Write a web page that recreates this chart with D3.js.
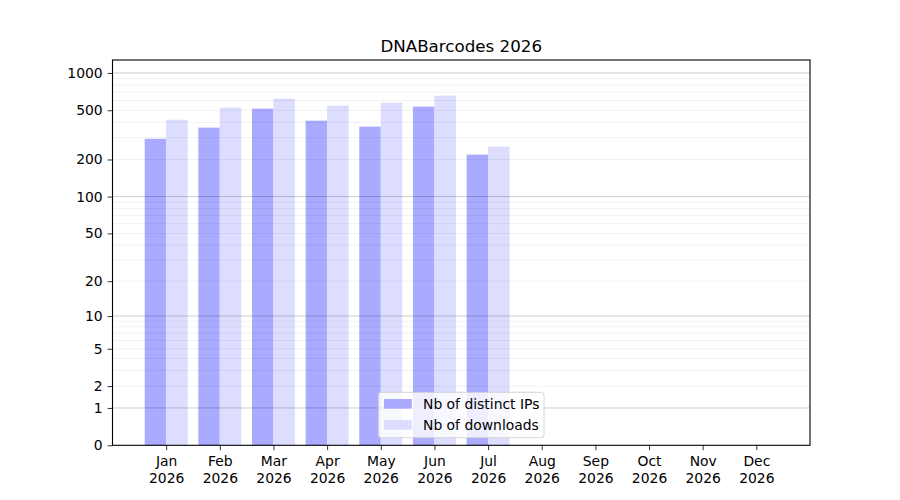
<!DOCTYPE html>
<html>
<head>
<meta charset="utf-8">
<script src="https://cdn.jsdelivr.net/npm/d3@7"></script>
<style>
body { margin: 0; background: #fff; }
svg { display: block; font-family: "DejaVu Sans", sans-serif; }
</style>
</head>
<body>
<svg id="chart" width="900" height="500"></svg>
<script>
const title = "DNABarcodes 2026";
const months = ["Jan","Feb","Mar","Apr","May","Jun","Jul","Aug","Sep","Oct","Nov","Dec"];
const yearLabel = "2026";
const distinctIPs = [294, 362, 515, 412, 369, 535, 219, 0, 0, 0, 0, 0];
const downloads = [419, 525, 621, 545, 576, 656, 254, 0, 0, 0, 0, 0];
const yTicks = [0, 1, 2, 5, 10, 20, 50, 100, 200, 500, 1000];
const seriesNames = ["Nb of distinct IPs", "Nb of downloads"];
const seriesColors = ["#aaaaff", "#ddddff"];

const svg = d3.select("#chart");
const L = 112.5, R = 810, T = 60, B = 445.3;

const x = d3.scaleLinear().domain([-1, 12]).range([L, R]);
const y = d3.scaleSymlog().constant(1).domain([0, 1272]).range([B, T]);

// bars
const barW = 0.4;
const g = svg.append("g");
g.selectAll("rect.ip").data(distinctIPs).join("rect")
  .attr("class", "ip")
  .attr("x", (d, i) => x(i - barW))
  .attr("width", (d, i) => x(i) - x(i - barW))
  .attr("y", d => y(d))
  .attr("height", d => B - y(d))
  .attr("fill", seriesColors[0]);
g.selectAll("rect.dl").data(downloads).join("rect")
  .attr("class", "dl")
  .attr("x", (d, i) => x(i))
  .attr("width", (d, i) => x(i + barW) - x(i))
  .attr("y", d => y(d))
  .attr("height", d => B - y(d))
  .attr("fill", seriesColors[1]);

// grid (drawn over bars, semi-transparent)
const majors = [1, 10, 100, 1000];
const minors = [];
[1, 10, 100, 1000].forEach(b => { for (let k = 2; k <= 9; k++) { const v = b * k; if (v <= 1272) minors.push(v); } });
const grid = svg.append("g");
grid.selectAll("line.minor").data(minors).join("line")
  .attr("x1", L).attr("x2", R)
  .attr("y1", d => y(d)).attr("y2", d => y(d))
  .attr("stroke", "#000").attr("stroke-opacity", 0.075).attr("stroke-width", 0.8);
grid.selectAll("line.major").data(majors).join("line")
  .attr("x1", L).attr("x2", R)
  .attr("y1", d => y(d)).attr("y2", d => y(d))
  .attr("stroke", "#000").attr("stroke-opacity", 0.25).attr("stroke-width", 0.8);

// axes
const yAxis = d3.axisLeft(y).tickValues(yTicks).tickFormat(d3.format("d")).tickSize(4.9).tickPadding(4.9);
const ya = svg.append("g").attr("transform", `translate(${L},0)`).call(yAxis);
ya.select(".domain").remove();
ya.selectAll("text").attr("font-size", "13.9px").attr("fill", "#000").attr("font-family", "DejaVu Sans");
ya.selectAll("line").attr("stroke", "#000").attr("stroke-width", 0.8);

const xAxis = d3.axisBottom(x).tickValues(d3.range(12)).tickFormat(() => "").tickSize(4.9);
const xa = svg.append("g").attr("transform", `translate(0,${B})`).call(xAxis);
xa.select(".domain").remove();
xa.selectAll("line").attr("stroke", "#000").attr("stroke-width", 0.8);
xa.selectAll(".tick").each(function(d, i) {
  const t = d3.select(this).select("text").attr("y", 0).attr("dy", null)
    .attr("font-size", "13.9px").attr("fill", "#000").attr("font-family", "DejaVu Sans");
  t.append("tspan").attr("x", 0).attr("y", 20.8).text(months[i]);
  t.append("tspan").attr("x", 0).attr("y", 37.4).text(yearLabel);
});

// frame
svg.append("rect").attr("x", L).attr("y", T).attr("width", R - L).attr("height", B - T)
  .attr("fill", "none").attr("stroke", "#000").attr("stroke-width", 1.1);

// title
svg.append("text").attr("x", (L + R) / 2).attr("y", 52).attr("text-anchor", "middle")
  .attr("font-size", "16.7px").attr("fill", "#000").text(title);

// legend
const lg = svg.append("g");
lg.append("rect").attr("x", 378.3).attr("y", 392.3).attr("width", 165.7).attr("height", 45.4)
  .attr("rx", 3).attr("fill", "#fff").attr("fill-opacity", 0.8).attr("stroke", "#cccccc").attr("stroke-width", 0.8);
seriesNames.forEach((name, i) => {
  const cy = 404 + i * 21;
  lg.append("rect").attr("x", 384).attr("y", cy - 5).attr("width", 27.8).attr("height", 9.7)
    .attr("fill", seriesColors[i]);
  lg.append("text").attr("x", 423).attr("y", cy).attr("dy", "0.36em")
    .attr("font-size", "13.9px").attr("fill", "#000").text(name);
});
</script>
</body>
</html>
